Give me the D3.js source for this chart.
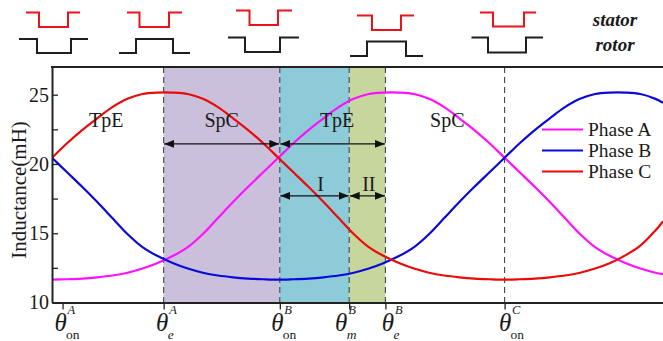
<!DOCTYPE html>
<html>
<head>
<meta charset="utf-8">
<script src="https://cdn.jsdelivr.net/npm/d3@7"></script>
<style>
  html, body { margin: 0; padding: 0; background: #fff; overflow: hidden; }
  svg { display: block; }
  text { font-family: "Liberation Serif", "Times New Roman", serif; fill: #1a1a1a; }
</style>
</head>
<body>
<svg id="chart" width="663" height="341"></svg>
<script>
// Rotor position samples (deg)
const angles = [0,1,2,3,4,5,6,7,8,9,10,11,12,13,14,15,16,17,18,19,20,
                21,22,23,24,25,26,27,28,29,30,31,32,33,34,35,36,37,38,39,40,40.5];

// Phase inductances (mH)
const phaseA = [11.65,11.68,11.73,11.82,11.95,12.15,12.45,12.85,13.35,14.0,14.95,16.1,17.25,18.35,19.4,20.45,
                21.5,22.45,23.3,24.1,24.7,25.05,25.15,25.15,25.05,24.7,24.1,23.3,22.45,21.5,20.45,
                19.4,18.35,17.25,16.1,14.95,14.0,13.35,12.85,12.45,12.15,12.05];
const phaseB = [20.45,19.4,18.35,17.25,16.1,14.95,14.0,13.35,12.85,12.45,12.15,11.95,11.82,11.73,11.68,11.65,
                11.68,11.73,11.82,11.95,12.15,12.45,12.85,13.35,14.0,14.95,16.1,17.25,18.35,19.4,20.45,
                21.5,22.45,23.3,24.1,24.7,25.05,25.15,25.15,25.05,24.7,24.42];
const phaseC = [20.45,21.5,22.45,23.3,24.1,24.7,25.05,25.15,25.15,25.05,24.7,24.1,23.3,22.45,21.5,20.45,
                19.4,18.35,17.25,16.1,14.95,14.0,13.35,12.85,12.45,12.15,11.95,11.82,11.73,11.68,11.65,
                11.68,11.73,11.82,11.95,12.15,12.45,12.85,13.4,14.1,15.2,15.85];
const seriesNames = ["Phase A", "Phase B", "Phase C"];

// Y axis ticks (labelled every 5 mH)
const yTicks = [10, 12.5, 15, 17.5, 20, 22.5, 25];

// Characteristic rotor angles
const markAngles = [0.7, 7.4, 15.1, 19.7, 22.1, 30];
const markSup    = ["A", "A", "B", "B", "B", "C"];
const markSub    = ["on", "e", "on", "m", "e", "on"];

// Operating regions between characteristic angles
const bandFrom = [7.4, 15.1, 19.7];
const bandTo   = [15.1, 19.7, 22.1];

// Mode spans (double arrows) and region labels
const spanFrom  = [7.4, 15.1, 15.1, 19.7];
const spanTo    = [15.1, 22.1, 19.7, 22.1];
const spanLevel = [21.45, 21.45, 17.7, 17.7];
const modeText  = ["TpE", "SpC", "TpE", "SpC", "I", "II"];
const modeAngle = [3.6, 11.25, 18.9, 26.2, 17.8, 21.0];
const modeLevel = [22.7, 22.7, 22.7, 22.7, 18.05, 18.05];

const svg = d3.select("#chart");
const W = 663;
const plotLeft = 52, plotTop = 67, plotBottom = 302.5;

const x = d3.scaleLinear().domain([0, 40.5]).range([plotLeft, W]);
const y = d3.scaleLinear().domain([10, 27]).range([plotBottom, plotTop]);

const defs = svg.append("defs");
defs.append("clipPath").attr("id", "plotClip")
  .append("rect").attr("x", plotLeft).attr("y", plotTop)
  .attr("width", W - plotLeft).attr("height", plotBottom - plotTop);
defs.append("marker")
  .attr("id", "arrowHead").attr("viewBox", "0 0 10 8")
  .attr("refX", 10).attr("refY", 4)
  .attr("markerWidth", 10).attr("markerHeight", 8)
  .attr("markerUnits", "userSpaceOnUse")
  .attr("orient", "auto-start-reverse")
  .append("path").attr("d", "M0,0 L10,4 L0,8 Z").attr("fill", "#111");

// ---- stator / rotor tooth sketches ----
const icons = svg.append("g").attr("fill", "none").attr("stroke-width", 2);
function slot(x0, x1, x2, x3, yOut, yIn, color) {
  icons.append("path")
    .attr("d", `M${x0},${yOut} H${x1} V${yIn} H${x2} V${yOut} H${x3}`)
    .attr("stroke", color);
}
slot(26, 39, 68, 80, 12.5, 27, "#e8141c");
slot(19, 37, 71, 88, 39, 53, "#1e1e1e");
slot(127, 139.5, 169, 182, 12.5, 27, "#e8141c");
slot(119, 136, 173, 190, 53, 39, "#1e1e1e");
slot(236, 249.5, 278, 292, 10.5, 25, "#e8141c");
slot(228, 245, 280, 299, 37.5, 52, "#1e1e1e");
slot(357, 372, 401, 414, 15.5, 30, "#e8141c");
slot(350, 367, 406, 423, 56, 41.5, "#1e1e1e");
slot(480, 493, 524, 536, 12.5, 26.5, "#e8141c");
slot(471.5, 488, 526, 543, 37.5, 52.5, "#1e1e1e");

svg.append("text").attr("x", 615).attr("y", 26).attr("text-anchor", "middle")
  .style("font-size", "19px").style("font-style", "italic").style("font-weight", "bold")
  .text("stator");
svg.append("text").attr("x", 615).attr("y", 51).attr("text-anchor", "middle")
  .style("font-size", "19px").style("font-style", "italic").style("font-weight", "bold")
  .text("rotor");

// ---- operating region bands ----
const bandColors = ["#cbc0db", "#8ecbd9", "#c6d69c"];
svg.append("g").selectAll("rect").data(bandFrom).join("rect")
  .attr("x", (d) => x(d))
  .attr("y", plotTop)
  .attr("width", (d, i) => x(bandTo[i]) - x(d))
  .attr("height", plotBottom - plotTop)
  .attr("fill", (d, i) => bandColors[i]);

// ---- dashed guides at characteristic angles ----
svg.append("g").selectAll("line").data(markAngles.slice(1)).join("line")
  .attr("x1", (d) => x(d)).attr("x2", (d) => x(d))
  .attr("y1", plotTop).attr("y2", plotBottom)
  .attr("stroke", "#3a4650").attr("stroke-width", 1.1)
  .attr("stroke-dasharray", "6,4");

// ---- inductance curves ----
const line = d3.line()
  .x((d) => x(d[0]))
  .y((d) => y(d[1]))
  .curve(d3.curveCatmullRom.alpha(0.5));
const seriesValues = [phaseA, phaseB, phaseC];
const seriesColors = ["#ff10ff", "#0a0ad8", "#ea0a0a"];
const curves = svg.append("g").attr("clip-path", "url(#plotClip)");
seriesValues.forEach((vals, i) => {
  curves.append("path")
    .attr("d", line(angles.map((a, k) => [a, vals[k]])))
    .attr("fill", "none")
    .attr("stroke", seriesColors[i])
    .attr("stroke-width", 2.2);
});

// ---- mode spans ----
svg.append("g").selectAll("line").data(spanFrom).join("line")
  .attr("x1", (d) => x(d) + 0.5)
  .attr("x2", (d, i) => x(spanTo[i]) - 0.5)
  .attr("y1", (d, i) => y(spanLevel[i]))
  .attr("y2", (d, i) => y(spanLevel[i]))
  .attr("stroke", "#111").attr("stroke-width", 1.4)
  .attr("marker-start", "url(#arrowHead)")
  .attr("marker-end", "url(#arrowHead)");

svg.append("g").selectAll("text").data(modeText).join("text")
  .attr("x", (d, i) => x(modeAngle[i]))
  .attr("y", (d, i) => y(modeLevel[i]))
  .attr("text-anchor", "middle")
  .style("font-size", "20px")
  .text((d) => d);

// ---- legend ----
const legend = svg.append("g");
seriesNames.forEach((name, i) => {
  const ly = 129.5 + i * 21;
  legend.append("line").attr("x1", 542).attr("x2", 583).attr("y1", ly).attr("y2", ly)
    .attr("stroke", seriesColors[i]).attr("stroke-width", 2.2);
  legend.append("text").attr("x", 588).attr("y", ly + 6.5)
    .style("font-size", "19.5px").text(name);
});

// ---- axes ----
const yAxis = d3.axisLeft(y)
  .tickValues(yTicks)
  .tickSize(-6)
  .tickSizeOuter(0)
  .tickPadding(3)
  .tickFormat((d) => (d % 5 === 0 ? d : ""));
const gy = svg.append("g").attr("transform", `translate(${plotLeft},0)`).call(yAxis);
gy.select(".domain").attr("stroke", "#222").attr("stroke-width", 2);
gy.selectAll(".tick line").attr("stroke", "#222").attr("stroke-width", 1.3);
gy.selectAll(".tick text")
  .style("font-family", '"Liberation Serif", "Times New Roman", serif')
  .style("font-size", "20px").attr("fill", "#1a1a1a");

const xAxis = d3.axisBottom(x)
  .tickValues(markAngles)
  .tickSize(7)
  .tickSizeOuter(0)
  .tickFormat("");
const gx = svg.append("g").attr("transform", `translate(0,${plotBottom})`).call(xAxis);
gx.select(".domain").attr("stroke", "#222").attr("stroke-width", 2);
gx.selectAll(".tick line").attr("stroke", "#222").attr("stroke-width", 1.3);

// top frame line
svg.append("line")
  .attr("x1", plotLeft - 1).attr("x2", W).attr("y1", plotTop).attr("y2", plotTop)
  .attr("stroke", "#222").attr("stroke-width", 2);

// angle labels: theta with phase superscript and event subscript
const labelNudge = [-2, -1.5, -2.5, -8, 2.5, 0.5];
const angleLabels = svg.append("g");
markAngles.forEach((a, i) => {
  const cx = x(a) + labelNudge[i];
  angleLabels.append("text").attr("x", cx).attr("y", 331)
    .attr("text-anchor", "middle")
    .style("font-size", "25px").style("font-style", "italic")
    .text("\u03B8");
  angleLabels.append("text").attr("x", cx + 7).attr("y", 313.5)
    .style("font-size", "12.5px").style("font-style", "italic")
    .text(markSup[i]);
  angleLabels.append("text").attr("x", cx + 5.5).attr("y", 338.5)
    .style("font-size", "13.5px")
    .style("font-style", markSub[i] === "on" ? "normal" : "italic")
    .text(markSub[i]);
});

// y axis title
svg.append("text")
  .attr("transform", "translate(26,190) rotate(-90)")
  .attr("text-anchor", "middle")
  .style("font-size", "21px")
  .text("Inductance(mH)");
</script>
</body>
</html>
